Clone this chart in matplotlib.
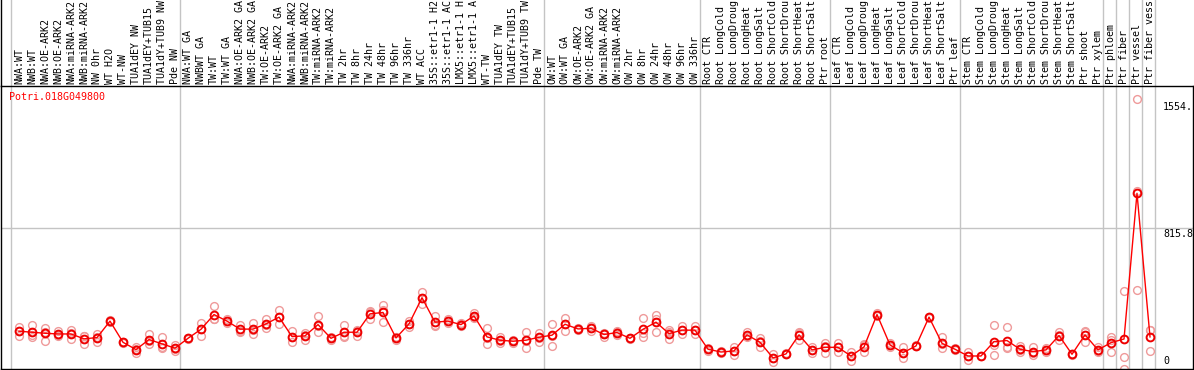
import matplotlib
matplotlib.use('Agg')
import matplotlib.pyplot as plt
import numpy as np
from matplotlib.transforms import blended_transform_factory, offset_copy

# ---------------- data ----------------
gene_id = "Potri.018G049800"

labels = [
    "NWA:WT", "NWB:WT", "NWA:OE-ARK2", "NWB:OE-ARK2", "NWA:miRNA-ARK2", "NWB:miRNA-ARK2",
    "NW 0hr", "WT H2O", "WT-NW", "TUA1dEY NW", "TUA1dEY+TUB15", "TUA1dY+TUB9 NW", "Pde NW",
    "NWA:WT GA", "NWBWT GA", "TW:WT", "TW:WT GA", "NWA:OE-ARK2 GA", "NWB:OE-ARK2 GA",
    "TW:OE-ARK2", "TW:OE-ARK2 GA", "NWA:miRNA-ARK2", "NWB:miRNA-ARK2", "TW:miRNA-ARK2",
    "TW:miRNA-ARK2", "TW 2hr", "TW 8hr", "TW 24hr", "TW 48hr", "TW 96hr", "TW 336hr",
    "WT ACC", "35S::etr1-1 H2", "35S::etr1-1 AC", "LMX5::etr1-1 H", "LMX5::etr1-1 A",
    "WT-TW", "TUA1dEY TW", "TUA1dEY+TUB15", "TUA1dY+TUB9 TW", "Pde TW",
    "OW:WT", "OW:WT GA", "OW:OE-ARK2", "OW:OE-ARK2 GA", "OW:miRNA-ARK2", "OW:miRNA-ARK2",
    "OW 2hr", "OW 8hr", "OW 24hr", "OW 48hr", "OW 96hr", "OW 336hr",
    "Root CTR", "Root LongCold", "Root LongDroug", "Root LongHeat", "Root LongSalt",
    "Root ShortCold", "Root ShortDrou", "Root ShortHeat", "Root ShortSalt", "Ptr root",
    "Leaf CTR", "Leaf LongCold", "Leaf LongDroug", "Leaf LongHeat", "Leaf LongSalt",
    "Leaf ShortCold", "Leaf ShortDrou", "Leaf ShortHeat", "Leaf ShortSalt", "Ptr leaf",
    "Stem CTR", "Stem LongCold", "Stem LongDroug", "Stem LongHeat", "Stem LongSalt",
    "Stem ShortCold", "Stem ShortDrou", "Stem ShortHeat", "Stem ShortSalt", "Ptr shoot",
    "Ptr xylem", "Ptr phloem", "Ptr fiber", "Ptr vessel", "Ptr fiber vess",
]

group_sizes = [13, 28, 12, 10, 10, 11, 1, 1, 1, 1]

means = [
    218, 212, 206, 202, 202, 174, 181, 276, 154, 112,
    170, 145, 120, 177, 229, 314, 276, 230, 230, 260,
    299, 187, 191, 256, 177, 212, 212, 318, 326, 179,
    260, 411, 270, 276, 256, 306, 185, 166, 160, 166,
    183, 195, 258, 231, 235, 199, 210, 177, 229, 270,
    204, 224, 224, 114, 98, 104, 197, 154, 64, 87,
    197, 110, 125, 125, 75, 127, 314, 139, 94, 133,
    299, 148, 114, 75, 75, 158, 164, 114, 100, 110,
    193, 85, 197, 110, 152, 173, 1013, 185,
]

replicates = [
    [244, 190, 220], [254, 187, 195], [238, 164, 215], [221, 190, 195], [225, 175, 205],
    [190, 144, 188], [202, 158, 183], [280, 272, 276], [158, 150, 154], [125, 94, 117],
    [204, 142, 164], [185, 127, 123], [138, 106, 116], [175, 180, 176], [265, 190, 232],
    [364, 290, 288], [288, 263, 277], [254, 215, 221], [263, 202, 225], [287, 238, 255],
    [340, 258, 299], [221, 156, 184], [210, 167, 196], [306, 215, 247], [186, 167, 178],
    [256, 187, 193], [225, 190, 221], [337, 290, 327], [369, 269, 340], [187, 168, 182],
    [279, 244, 257], [446, 375, 412], [306, 248, 256], [287, 267, 274], [263, 248, 257],
    [325, 295, 298], [235, 142, 178], [187, 148, 163], [167, 152, 161], [215, 119, 164],
    [210, 158, 181], [260, 133, 192], [292, 221, 261], [237, 225, 231], [250, 221, 234],
    [210, 187, 200], [221, 196, 213], [180, 175, 177], [292, 185, 210], [312, 212, 286],
    [225, 171, 216], [248, 200, 224], [248, 200, 224], [119, 106, 117], [104, 90, 100],
    [129, 81, 102], [215, 187, 189], [177, 125, 160], [87, 42, 63], [90, 85, 87],
    [215, 167, 209], [129, 90, 111], [152, 90, 133], [148, 100, 127], [100, 48, 77],
    [138, 100, 143], [320, 308, 314], [152, 125, 140], [129, 62, 91], [136, 130, 133],
    [302, 296, 299], [183, 119, 142], [119, 110, 113], [100, 52, 73], [77, 73, 75],
    [254, 81, 139], [244, 125, 123], [133, 100, 109], [129, 81, 90], [119, 100, 111],
    [215, 167, 197], [88, 82, 85], [221, 158, 212], [129, 100, 101], [187, 100, 169],
    [451, 69, 0], [1554, 457, 1028], [226, 104, 225],
]

y_tick_labels = ["1554.", "815.8", "0"]

# ---------------- figure ----------------
W, H = 1194, 370
fig = plt.figure(figsize=(W / 100, H / 100), dpi=100)
fig.patch.set_facecolor('white')
ax = fig.add_axes([1 / W, 1 / H, 1192 / W, 283 / H])

n = len(labels)
x = np.arange(n)
xmin = -18 / 13
ax.set_xlim(xmin, xmin + 1192 / 13)
all_reps = [v for r in replicates for v in r]
ymax = max(all_reps) * 1.05
ax.set_ylim(0, ymax)
ax.set_xticks([])
ax.set_yticks([])
for s in ax.spines.values():
    s.set_color('black')
    s.set_linewidth(1.0)

grid_c = '#c4c4c4'
mono = 'DejaVu Sans Mono'
fs = 7.2

bt = blended_transform_factory(ax.transData, ax.transAxes)
top_frac = (H - 0.5) / 283

# vertical group lines (extend into label area)
bounds = np.concatenate([[0], np.cumsum(group_sizes)])
for b in bounds:
    ax.plot([b - 0.6, b - 0.6], [0, top_frac], color=grid_c, lw=1.0,
            transform=bt, clip_on=False, zorder=0.5)

# horizontal mid line
ax.axhline(ymax / 2, color=grid_c, lw=1.0, zorder=0.5)

# left border extension into label area
ax.plot([0, 0], [1, top_frac], color='black', lw=1.0, transform=ax.transAxes,
        clip_on=False)

# category labels
for i, lab in enumerate(labels):
    ax.text(i, 1 + 1.5 / 283, lab, rotation=90, ha='center', va='bottom',
            transform=bt, fontfamily=mono, fontsize=fs, color='black', clip_on=False)

# replicates
for i, r in enumerate(replicates):
    ax.plot([i] * len(r), r, linestyle='none', marker='o', markersize=5.6,
            markerfacecolor='none', markeredgecolor='#ef9a9a', markeredgewidth=1.0,
            zorder=2, clip_on=False)

# means
ax.plot(x, means, color='#ff0000', lw=1.0, marker='o', markersize=5.6,
        markerfacecolor='none', markeredgecolor='#ee0000', markeredgewidth=1.4, zorder=3)

# gene id
ax.text(8 / 1192, (369 - 97) / 283, gene_id, transform=ax.transAxes, ha='left',
        va='center', fontfamily=mono, fontsize=fs, color='#ff0000')

# right-side value labels
xt = 1162 / 1192
tx = blended_transform_factory(ax.transAxes, ax.transData)
ax.text(xt, max(all_reps), y_tick_labels[0], transform=offset_copy(tx, fig=fig, y=-2.5, units='dots'),
        ha='left', va='top', fontfamily=mono, fontsize=fs, color='black', clip_on=False)
ax.text(xt, ymax / 2, y_tick_labels[1], transform=offset_copy(tx, fig=fig, y=-1.5, units='dots'),
        ha='left', va='top', fontfamily=mono, fontsize=fs, color='black', clip_on=False)
ax.text(xt, 0, y_tick_labels[2], transform=offset_copy(tx, fig=fig, y=3, units='dots'),
        ha='left', va='bottom', fontfamily=mono, fontsize=fs, color='black', clip_on=False)

fig.savefig('out.png', dpi=100, facecolor='white')
